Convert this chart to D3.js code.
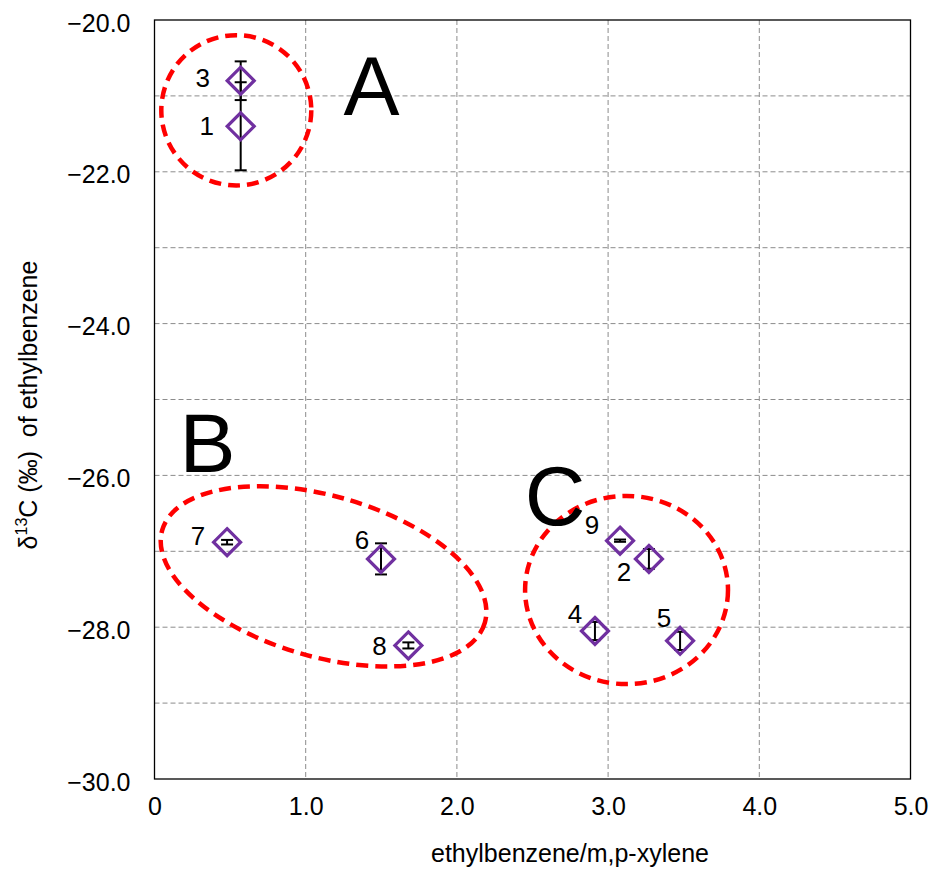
<!DOCTYPE html>
<html>

<head>
    <style>
        body {
            margin: 0;
            background: #fff;
        }

        text {
            font-family: "Liberation Sans", Arial, sans-serif;
        }
    </style>
    <script src="https://d3js.org/d3.v7.min.js" charset="utf-8"></script>
</head>

<body>
    <script>
        // sample number, ratio, delta13C, error
        const samples = ["1", "2", "3", "4", "5", "6", "7", "8", "9"];
        const ratio = [0.57, 3.27, 0.57, 2.913, 3.476, 1.498, 0.48, 1.679, 3.079];
        const delta = [-21.40, -27.10, -20.80, -28.05, -28.18, -27.10, -26.88, -28.24, -26.86];
        const err = [0.58, 0.13, 0.255, 0.12, 0.12, 0.205, 0.03, 0.04, 0.015];

        const xTicks = [0, 1, 2, 3, 4, 5];
        const yTicks = [-20, -22, -24, -26, -28, -30];
        const yGrid = [-21, -22, -23, -24, -25, -26, -27, -28, -29];

        // groups: name, centre (ratio, delta), half axes (ratio units, delta units), tilt in degrees
        const groups = ["A", "B", "C"];
        const groupCx = [0.541, 1.118, 3.122];
        const groupCy = [-21.19, -27.33, -27.51];
        const groupRx = [0.496, 1.11, 0.671];
        const groupRy = [0.99, 1.06, 1.24];
        const groupTilt = [0, 16, 0];
        const letterX = [1.435, 0.35, 2.65];
        const letterY = [-21.25, -25.95, -26.65];

        // where each number label sits next to its marker (px)
        const labelDx = [-34, -25, -38, -20, -16, -19, -29, -29, -28];
        const labelDy = [9, 22, 6, -8, -14, -10, 3, 10, -7];

        const w = 933;
        const h = 871;
        const pLeft = 154.5, pRight = 910.5, pTop = 20, pBottom = 779;

        const x = d3.scaleLinear().domain([0, 5]).range([pLeft, pRight]);
        const y = d3.scaleLinear().domain([-30, -20]).range([pBottom, pTop]);

        const svg = d3.select("body")
            .append("svg")
            .attr("width", w)
            .attr("height", h);

        // grid
        svg.append("g")
            .selectAll("line")
            .data(yGrid)
            .enter()
            .append("line")
            .attr("x1", pLeft).attr("x2", pRight)
            .attr("y1", (d) => y(d)).attr("y2", (d) => y(d))
            .attr("stroke", "#8c8c8c")
            .attr("stroke-width", 1)
            .attr("stroke-dasharray", "5,3");

        svg.append("g")
            .selectAll("line")
            .data(xTicks.slice(1, -1))
            .enter()
            .append("line")
            .attr("y1", pTop).attr("y2", pBottom)
            .attr("x1", (d) => x(d)).attr("x2", (d) => x(d))
            .attr("stroke", "#8c8c8c")
            .attr("stroke-width", 1)
            .attr("stroke-dasharray", "5,3");

        // frame
        svg.append("rect")
            .attr("x", pLeft).attr("y", pTop)
            .attr("width", pRight - pLeft).attr("height", pBottom - pTop)
            .attr("fill", "none")
            .attr("stroke", "#000")
            .attr("stroke-width", 1.3);

        // axes (labels only)
        const xAxis = d3.axisBottom(x)
            .tickValues(xTicks)
            .tickSize(0)
            .tickPadding(18)
            .tickFormat((d) => d === 0 ? "0" : d3.format(".1f")(d));
        const gx = svg.append("g")
            .attr("transform", "translate(0," + pBottom + ")")
            .call(xAxis);
        gx.select(".domain").remove();
        gx.selectAll("text").attr("font-size", 25).attr("fill", "#000")
            .style("font-family", "'Liberation Sans', Arial, sans-serif");

        const yAxis = d3.axisLeft(y)
            .tickValues(yTicks)
            .tickSize(0)
            .tickPadding(24)
            .tickFormat((d) => d3.format(".1f")(d).replace("-", "\u2212"));
        const gy = svg.append("g")
            .attr("transform", "translate(" + pLeft + ",3)")
            .call(yAxis);
        gy.select(".domain").remove();
        gy.selectAll("text").attr("font-size", 25).attr("fill", "#000")
            .style("font-family", "'Liberation Sans', Arial, sans-serif");

        // axis titles
        svg.append("text")
            .attr("x", 570).attr("y", 862)
            .attr("text-anchor", "middle")
            .attr("font-size", 25)
            .text("ethylbenzene/m,p-xylene");

        const yt = svg.append("text")
            .attr("transform", "translate(37,405) rotate(-90)")
            .attr("text-anchor", "middle")
            .attr("font-size", 25);
        yt.append("tspan").text("\u03b4");
        yt.append("tspan").attr("font-size", 16).attr("dy", -10).text("13");
        yt.append("tspan").attr("dy", 10).text("C (\u2030)\u00a0 of ethylbenzene");

        // group ellipses
        svg.append("g")
            .selectAll("ellipse")
            .data(groups)
            .enter()
            .append("ellipse")
            .attr("cx", 0).attr("cy", 0)
            .attr("rx", (d, i) => x(groupRx[i]) - x(0))
            .attr("ry", (d, i) => y(-30) - y(-30 + groupRy[i]))
            .attr("transform", (d, i) => "translate(" + x(groupCx[i]) + "," + y(groupCy[i]) + ") rotate(" + groupTilt[i] + ")")
            .attr("fill", "none")
            .attr("stroke", "#ff0000")
            .attr("stroke-width", 4.5)
            .attr("stroke-dasharray", "12,7");

        svg.append("g")
            .selectAll("text")
            .data(groups)
            .enter()
            .append("text")
            .attr("x", (d, i) => x(letterX[i]))
            .attr("y", (d, i) => y(letterY[i]))
            .attr("text-anchor", "middle")
            .attr("font-size", 84)
            .text((d) => d);

        // error bars
        const eb = svg.append("g").attr("stroke", "#000").attr("stroke-width", 2);
        samples.forEach((s, i) => {
            const cx = x(ratio[i]);
            const y1 = y(delta[i] + err[i]);
            const y2 = y(delta[i] - err[i]);
            eb.append("line").attr("x1", cx).attr("x2", cx).attr("y1", y1).attr("y2", y2);
            eb.append("line").attr("x1", cx - 6).attr("x2", cx + 6).attr("y1", y1).attr("y2", y1);
            eb.append("line").attr("x1", cx - 6).attr("x2", cx + 6).attr("y1", y2).attr("y2", y2);
        });

        // diamonds
        const r = 13.5;
        svg.append("g")
            .selectAll("path")
            .data(samples)
            .enter()
            .append("path")
            .attr("d", (d, i) => {
                const cx = x(ratio[i]), cy = y(delta[i]);
                return "M" + cx + "," + (cy - r) + "L" + (cx + r) + "," + cy +
                    "L" + cx + "," + (cy + r) + "L" + (cx - r) + "," + cy + "Z";
            })
            .attr("fill", "none")
            .attr("stroke", "#7030a0")
            .attr("stroke-width", 3.2);

        // sample numbers
        svg.append("g")
            .selectAll("text")
            .data(samples)
            .enter()
            .append("text")
            .attr("x", (d, i) => x(ratio[i]) + labelDx[i])
            .attr("y", (d, i) => y(delta[i]) + labelDy[i])
            .attr("text-anchor", "middle")
            .attr("font-size", 26)
            .text((d) => d);
    </script>
</body>

</html>
